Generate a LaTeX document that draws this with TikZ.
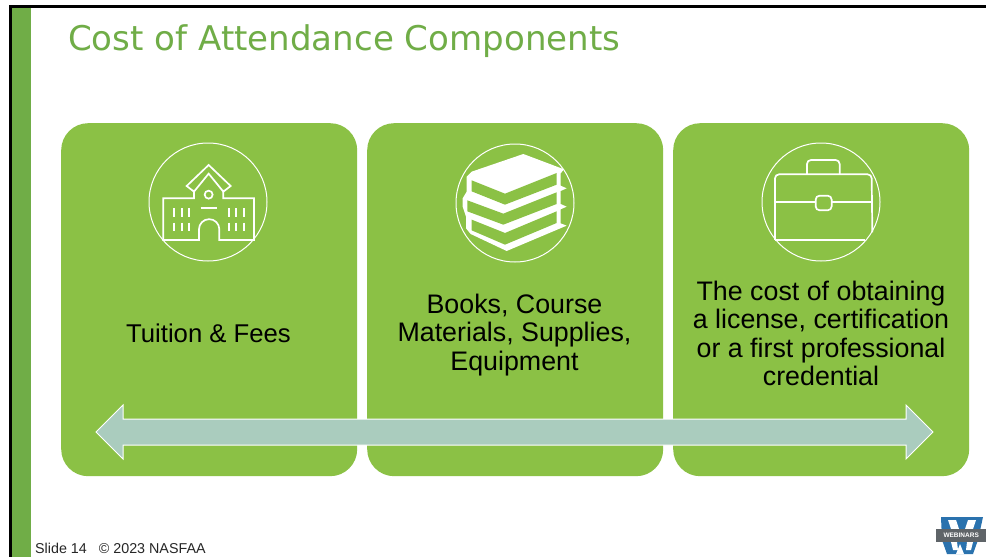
\documentclass[tikz,border=0pt]{standalone}
\usepackage{fontspec}
\setmainfont{Liberation Sans}
\newfontfamily\titlefont{DejaVu Sans}
\definecolor{boxgreen}{HTML}{8BC145}
\definecolor{bargreen}{HTML}{70AD47}
\definecolor{arrowfill}{HTML}{AACCBE}
\definecolor{logoblue}{HTML}{2A72AE}
\definecolor{logogrey}{HTML}{5F6468}
\tikzset{
  card/.style={fill=boxgreen,draw=none,rounded corners=27pt,minimum width=296pt,minimum height=353pt,anchor=north west,inner sep=0pt},
  cardtext/.style={align=center,text=black,font=\fontsize{26.8}{28.2}\selectfont,inner sep=0pt},
  ring/.style={draw=white,line width=1pt,circle,minimum size=118pt,inner sep=0pt},
  icon/.style={draw=white,line width=1.7pt,line join=miter},
}
\begin{document}
\begin{tikzpicture}[x=1pt,y=-1pt]
\useasboundingbox (0,0) rectangle (986,557);
\fill[white] (0,0) rectangle (986,557);
\fill[black] (9,5) rectangle (986,8);
\fill[black] (9,5) rectangle (12,557);
\fill[bargreen] (12,8) rectangle (31,557);
\node[anchor=base west,inner sep=0pt,text=bargreen,font=\titlefont\fontsize{34.05}{36}\selectfont] (title) at (68,50) {Cost of Attendance Components};
\node[card] (c1) at (61,123) {};
\node[card] (c2) at (367,123) {};
\node[card] (c3) at (673,123) {};
\node[ring] (r1) at (208,202) {};
\node[ring] (r2) at (515,203) {};
\node[ring] (r3) at (821,202) {};
% school
\begin{scope}[shift={(130,140)},x=0.3333pt,y=-0.3333pt]
\draw[icon] (192,150) -- (192,175) -- (100,175) -- (100,300) -- (207,300) -- (207,268) arc (180:0:10.17pt) -- (268,300) -- (372,300) -- (372,175) -- (280,175) -- (280,150);
\draw[icon] (192,155) -- (170,138) -- (236,75) -- (302,138) -- (280,155) -- (236,101) -- cycle;
\draw[icon] (236,164) circle (4pt);
\draw[icon] (212,205) -- (260,205);
\foreach \x in {132,155,178,296,318,342}{
  \draw[icon] (\x,205) -- (\x,230) (\x,248) -- (\x,272);
}
\end{scope}
% books
\begin{scope}[shift={(440,135)},x=0.3333pt,y=-0.3333pt]
\fill[white] (250,57) -- (372,103) -- (362,115) -- (362,152) -- (380,160) -- (362,168) -- (362,207) -- (380,215) -- (362,223) -- (362,265) -- (380,272) -- (200,348) -- (92,297) -- (78,280) -- (78,245) -- (68,215) -- (68,190) -- (80,170) -- (80,125) -- (95,110) -- cycle;
\fill[boxgreen] (95,136) -- (195,176) -- (350,114) -- (350,149) -- (195,209) -- (95,169) -- cycle;
\fill[boxgreen] (82,196) -- (190,236) -- (350,172) -- (350,207) -- (190,269) -- (82,229) -- cycle;
\fill[boxgreen] (95,254) -- (195,294) -- (350,229) -- (350,264) -- (195,329) -- (95,286) -- cycle;
\end{scope}
% briefcase
\begin{scope}[shift={(745,145)},x=0.3333pt,y=-0.3333pt]
\draw[icon,rounded corners=4pt] (90,285) -- (90,88) -- (380,88) -- (382,262);
\draw[icon] (90,285) -- (360,285);
\draw[icon] (90,170) -- (212,170) (260,170) -- (380,170);
\draw[icon,rounded corners=4pt] (212,152) rectangle (260,196);
\draw[icon,rounded corners=4pt] (186,88) -- (186,45) -- (284,45) -- (284,88);
\end{scope}
\node[cardtext,font=\fontsize{25.7}{28}\selectfont] (t1) at (208.5,333) {Tuition \& Fees};
\node[cardtext] (t2) at (514.5,335) {Books, Course\\Materials, Supplies,\\Equipment};
\node[cardtext] (t3) at (821,333.5) {The cost of obtaining\\a license, certification\\or a first professional\\credential};
\draw[draw=white,line width=1pt,fill=arrowfill,line join=miter] (96,432) -- (123,405) -- (123,419) -- (906,419) -- (906,405) -- (933,432) -- (906,459) -- (906,445) -- (123,445) -- (123,459) -- cycle;
\node[anchor=base west,inner sep=0pt,font=\fontsize{14.3}{16}\selectfont,text=black!85] (foot) at (35,553) {Slide 14\hspace{12pt}© 2023 NASFAA};
% logo
\fill[logoblue] (941,517) -- (983,517) -- (978,540) -- (973,554) -- (947,554) -- (942,540) -- cycle;
\fill[white] (948,520) -- (956,520) -- (959,529) -- (951,529) -- cycle;
\fill[white] (968,520) -- (976,520) -- (973,529) -- (965,529) -- cycle;
\fill[white] (951,542) -- (957,542) -- (958,550) -- (953,550) -- cycle;
\fill[white] (967,542) -- (973,542) -- (971,550) -- (966,550) -- cycle;
\fill[white] (956,554) -- (960,544) -- (964,554) -- cycle;
\node[fill=logogrey,text=white,minimum width=50pt,minimum height=13pt,inner sep=0pt,font=\bfseries\fontsize{6.5}{7}\selectfont,anchor=west] (logo) at (936,535.5) {WEBINARS};
\end{tikzpicture}
\end{document}
